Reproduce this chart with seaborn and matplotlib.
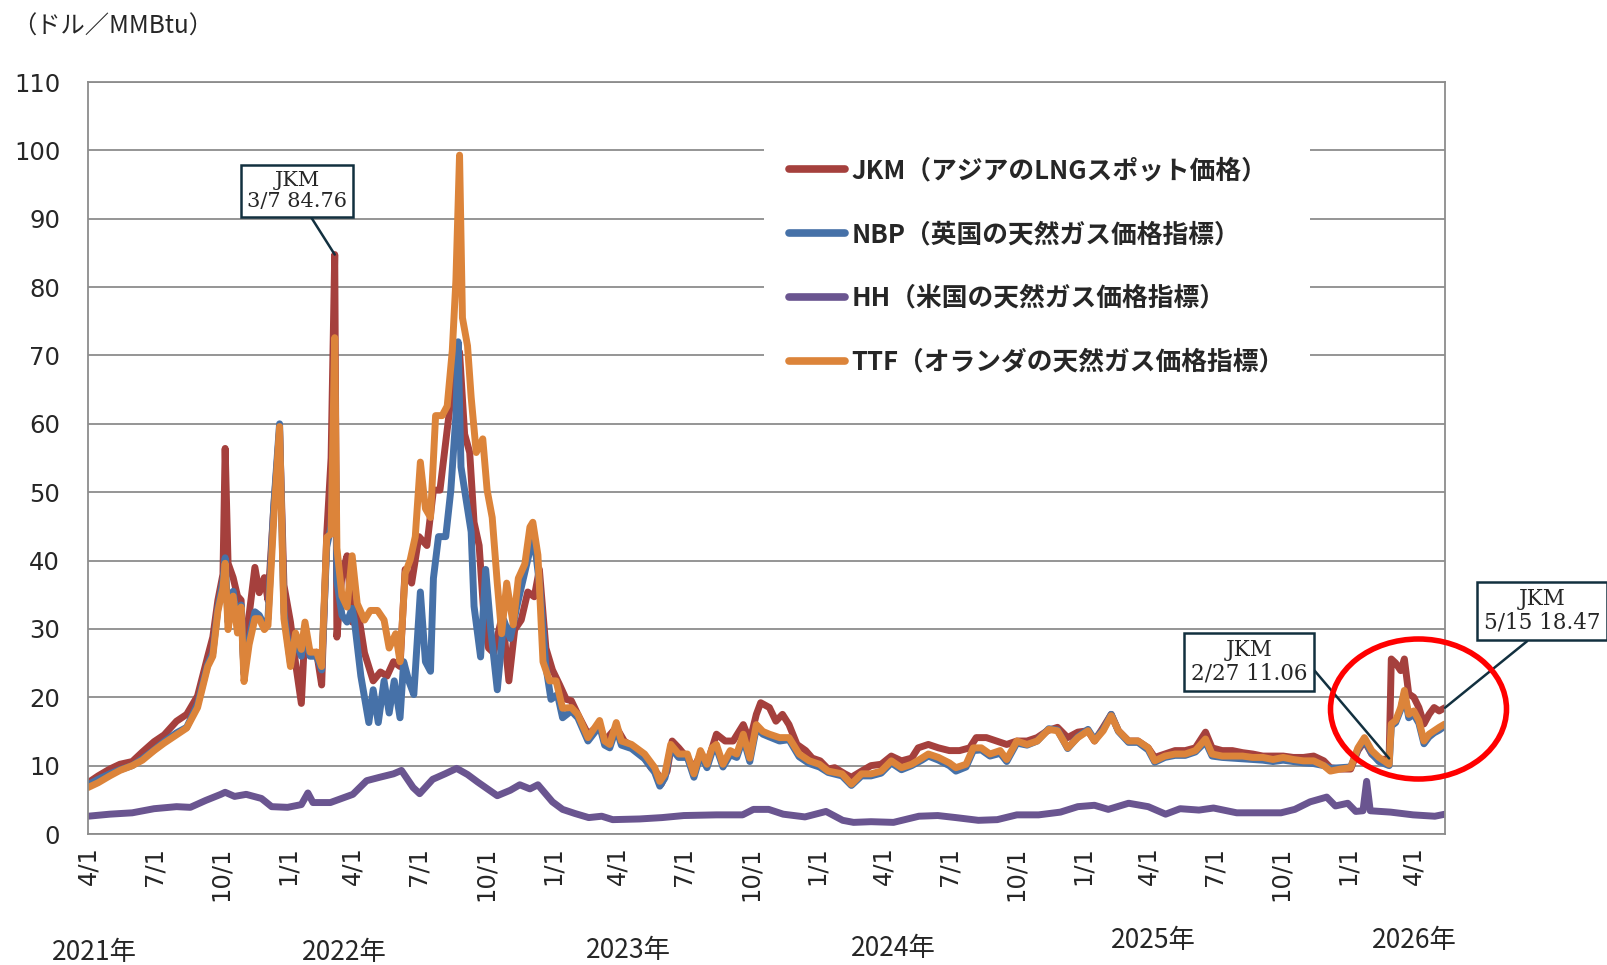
import matplotlib
matplotlib.use("Agg")
import matplotlib.pyplot as plt
import matplotlib.dates as mdates
from matplotlib.lines import Line2D
from matplotlib.patches import Ellipse
import pandas as pd
import seaborn as sns

# 価格データ（ドル／MMBtu）、グラフから読み取った値
jkm = [
    ("2021-04-01", 7.5), ("2021-04-15", 8.5), ("2021-05-01", 9.5), ("2021-05-15", 10.2),
    ("2021-06-01", 10.6), ("2021-06-15", 12.0), ("2021-07-01", 13.5), ("2021-07-15", 14.5),
    ("2021-08-01", 16.5), ("2021-08-15", 17.5), ("2021-08-30", 20.2), ("2021-09-13", 26.0),
    ("2021-09-20", 28.8), ("2021-09-27", 34.2), ("2021-10-04", 38.0), ("2021-10-07", 56.4),
    ("2021-10-11", 39.6), ("2021-10-18", 37.5), ("2021-10-24", 34.8), ("2021-10-29", 34.2),
    ("2021-11-02", 23.4), ("2021-11-09", 32.0), ("2021-11-17", 39.0), ("2021-11-23", 35.3),
    ("2021-11-30", 37.5), ("2021-12-05", 34.2), ("2021-12-13", 47.7), ("2021-12-21", 59.0),
    ("2021-12-27", 36.4), ("2022-01-05", 31.0), ("2022-01-12", 25.0), ("2022-01-20", 19.1),
    ("2022-01-25", 29.9), ("2022-02-01", 26.1), ("2022-02-10", 26.6), ("2022-02-17", 21.8),
    ("2022-02-24", 43.9), ("2022-03-02", 55.0), ("2022-03-07", 84.76), ("2022-03-10", 28.8),
    ("2022-03-17", 38.0), ("2022-03-24", 40.7), ("2022-03-31", 31.0), ("2022-04-07", 33.3),
    ("2022-04-17", 26.5), ("2022-04-29", 22.4), ("2022-05-09", 23.7), ("2022-05-18", 23.1),
    ("2022-05-27", 25.2), ("2022-06-05", 24.5), ("2022-06-12", 38.7), ("2022-06-21", 36.7),
    ("2022-07-01", 43.5), ("2022-07-12", 42.2), ("2022-07-21", 50.3), ("2022-07-30", 50.3),
    ("2022-08-09", 59.2), ("2022-08-19", 68.0), ("2022-08-26", 70.5), ("2022-09-02", 58.5),
    ("2022-09-09", 55.8), ("2022-09-15", 45.6), ("2022-09-22", 42.2), ("2022-09-29", 31.3),
    ("2022-10-05", 27.2), ("2022-10-12", 26.5), ("2022-10-24", 32.0), ("2022-11-02", 22.4),
    ("2022-11-10", 29.9), ("2022-11-19", 31.3), ("2022-11-28", 35.4), ("2022-12-07", 34.7),
    ("2022-12-14", 38.7), ("2022-12-23", 27.2), ("2023-01-01", 24.0), ("2023-01-11", 21.8),
    ("2023-01-20", 19.7), ("2023-01-27", 19.5), ("2023-02-05", 17.5), ("2023-02-19", 14.6),
    ("2023-03-07", 16.0), ("2023-03-14", 13.6), ("2023-03-30", 15.6), ("2023-04-10", 13.6),
    ("2023-04-24", 12.6), ("2023-05-08", 11.1), ("2023-05-17", 9.7), ("2023-05-26", 8.8),
    ("2023-05-31", 7.3), ("2023-06-08", 9.2), ("2023-06-15", 13.6), ("2023-06-24", 12.6),
    ("2023-07-06", 11.1), ("2023-07-15", 9.7), ("2023-07-24", 11.6), ("2023-08-02", 10.2),
    ("2023-08-15", 14.6), ("2023-08-27", 13.6), ("2023-09-07", 13.6), ("2023-09-21", 16.0),
    ("2023-09-30", 13.6), ("2023-10-09", 17.5), ("2023-10-15", 19.2), ("2023-10-27", 18.5),
    ("2023-11-05", 16.5), ("2023-11-14", 17.5), ("2023-11-23", 16.0), ("2023-12-04", 13.1),
    ("2023-12-16", 12.2), ("2023-12-25", 11.1), ("2024-01-05", 10.7), ("2024-01-16", 9.5),
    ("2024-01-25", 9.7), ("2024-02-08", 8.8), ("2024-02-17", 8.3), ("2024-03-02", 9.2),
    ("2024-03-15", 10.0), ("2024-03-29", 10.2), ("2024-04-12", 11.4), ("2024-04-26", 10.7),
    ("2024-05-10", 11.1), ("2024-05-19", 12.6), ("2024-06-02", 13.1), ("2024-06-16", 12.6),
    ("2024-07-01", 12.2), ("2024-07-15", 12.2), ("2024-07-29", 12.6), ("2024-08-07", 14.1),
    ("2024-08-21", 14.1), ("2024-09-04", 13.6), ("2024-09-18", 13.1), ("2024-10-02", 13.6),
    ("2024-10-16", 13.6), ("2024-10-30", 14.1), ("2024-11-13", 15.1), ("2024-11-27", 15.6),
    ("2024-12-11", 14.1), ("2024-12-25", 14.9), ("2025-01-08", 15.1), ("2025-01-17", 13.6),
    ("2025-01-29", 15.6), ("2025-02-09", 17.5), ("2025-02-19", 15.1), ("2025-03-05", 13.6),
    ("2025-03-18", 13.6), ("2025-04-01", 12.6), ("2025-04-10", 11.2), ("2025-04-24", 11.7),
    ("2025-05-08", 12.2), ("2025-05-22", 12.2), ("2025-06-05", 12.6), ("2025-06-19", 14.9),
    ("2025-06-28", 12.6), ("2025-07-12", 12.2), ("2025-07-26", 12.2), ("2025-08-09", 11.9),
    ("2025-08-23", 11.7), ("2025-09-06", 11.4), ("2025-09-20", 11.4), ("2025-10-04", 11.4),
    ("2025-10-18", 11.2), ("2025-11-01", 11.2), ("2025-11-15", 11.4), ("2025-11-29", 10.7),
    ("2025-12-08", 9.7), ("2025-12-22", 9.5), ("2026-01-05", 9.5), ("2026-01-15", 12.2),
    ("2026-01-24", 13.6), ("2026-02-03", 11.7), ("2026-02-13", 10.8), ("2026-02-27", 11.06),
    ("2026-03-02", 25.6), ("2026-03-08", 25.0), ("2026-03-15", 23.9), ("2026-03-20", 25.6),
    ("2026-03-26", 20.5), ("2026-04-02", 20.0), ("2026-04-09", 18.5), ("2026-04-16", 16.1),
    ("2026-04-23", 17.5), ("2026-04-30", 18.5), ("2026-05-07", 18.0), ("2026-05-15", 18.47),
]

nbp = [
    ("2021-04-01", 7.2), ("2021-04-15", 8.0), ("2021-05-01", 8.8), ("2021-05-15", 9.4),
    ("2021-06-01", 10.0), ("2021-06-15", 11.0), ("2021-07-01", 12.3), ("2021-07-15", 13.5),
    ("2021-08-01", 14.8), ("2021-08-15", 15.6), ("2021-08-30", 19.0), ("2021-09-13", 24.8),
    ("2021-09-20", 26.5), ("2021-09-27", 33.0), ("2021-10-04", 37.0), ("2021-10-07", 40.4),
    ("2021-10-11", 31.0), ("2021-10-18", 35.5), ("2021-10-24", 30.5), ("2021-10-29", 33.5),
    ("2021-11-02", 23.5), ("2021-11-09", 28.5), ("2021-11-17", 32.5), ("2021-11-23", 32.0),
    ("2021-11-30", 30.5), ("2021-12-05", 31.5), ("2021-12-13", 48.0), ("2021-12-21", 60.0),
    ("2021-12-27", 32.5), ("2022-01-05", 25.0), ("2022-01-12", 28.5), ("2022-01-20", 26.0),
    ("2022-01-25", 30.0), ("2022-02-01", 26.0), ("2022-02-10", 26.0), ("2022-02-17", 24.0),
    ("2022-02-24", 42.0), ("2022-03-02", 45.0), ("2022-03-07", 65.0), ("2022-03-10", 37.0),
    ("2022-03-17", 32.0), ("2022-03-24", 31.0), ("2022-03-31", 33.0), ("2022-04-03", 31.3),
    ("2022-04-12", 23.1), ("2022-04-23", 16.3), ("2022-04-29", 21.1), ("2022-05-06", 16.3),
    ("2022-05-14", 22.4), ("2022-05-21", 17.7), ("2022-05-28", 22.4), ("2022-06-05", 17.0),
    ("2022-06-10", 25.2), ("2022-06-17", 22.4), ("2022-06-24", 20.4), ("2022-07-03", 35.4),
    ("2022-07-10", 25.2), ("2022-07-17", 23.8), ("2022-07-21", 37.4), ("2022-07-28", 43.5),
    ("2022-08-07", 43.5), ("2022-08-14", 50.3), ("2022-08-21", 61.2), ("2022-08-24", 72.0),
    ("2022-08-28", 53.7), ("2022-09-04", 48.9), ("2022-09-11", 44.2), ("2022-09-15", 33.3),
    ("2022-09-24", 25.9), ("2022-10-01", 38.7), ("2022-10-08", 29.9), ("2022-10-17", 21.1),
    ("2022-10-26", 31.3), ("2022-11-04", 28.6), ("2022-11-13", 33.3), ("2022-11-22", 37.4),
    ("2022-12-01", 41.5), ("2022-12-07", 42.9), ("2022-12-14", 36.7), ("2022-12-23", 24.5),
    ("2022-12-30", 19.7), ("2023-01-08", 20.4), ("2023-01-15", 17.0), ("2023-01-27", 18.0),
    ("2023-02-05", 17.0), ("2023-02-19", 13.6), ("2023-03-07", 15.8), ("2023-03-14", 13.0),
    ("2023-03-21", 12.6), ("2023-03-30", 15.5), ("2023-04-06", 13.0), ("2023-04-20", 12.5),
    ("2023-05-08", 11.0), ("2023-05-22", 9.0), ("2023-05-29", 7.0), ("2023-06-05", 8.2),
    ("2023-06-13", 12.6), ("2023-06-24", 11.2), ("2023-07-06", 11.2), ("2023-07-15", 8.3),
    ("2023-07-24", 11.6), ("2023-08-02", 9.7), ("2023-08-09", 12.0), ("2023-08-15", 12.6),
    ("2023-08-24", 9.8), ("2023-09-03", 11.6), ("2023-09-12", 11.2), ("2023-09-21", 14.0),
    ("2023-09-30", 10.6), ("2023-10-09", 15.5), ("2023-10-18", 14.6), ("2023-10-27", 14.2),
    ("2023-11-10", 13.6), ("2023-11-23", 13.8), ("2023-12-07", 11.3), ("2023-12-21", 10.3),
    ("2024-01-04", 9.8), ("2024-01-16", 9.0), ("2024-02-04", 8.5), ("2024-02-17", 7.1),
    ("2024-03-02", 8.5), ("2024-03-15", 8.5), ("2024-03-29", 8.9), ("2024-04-12", 10.4),
    ("2024-04-26", 9.4), ("2024-05-10", 10.0), ("2024-05-24", 10.8), ("2024-06-02", 11.4),
    ("2024-06-16", 10.8), ("2024-07-01", 10.0), ("2024-07-10", 9.2), ("2024-07-24", 9.8),
    ("2024-08-03", 12.2), ("2024-08-14", 12.3), ("2024-08-26", 11.4), ("2024-09-09", 11.8),
    ("2024-09-18", 10.6), ("2024-10-02", 13.3), ("2024-10-16", 13.0), ("2024-10-30", 13.6),
    ("2024-11-15", 15.4), ("2024-11-27", 15.2), ("2024-12-11", 12.5), ("2024-12-25", 14.2),
    ("2025-01-08", 15.3), ("2025-01-17", 13.8), ("2025-01-29", 15.3), ("2025-02-09", 17.5),
    ("2025-02-19", 15.0), ("2025-03-05", 13.4), ("2025-03-18", 13.4), ("2025-04-01", 12.3),
    ("2025-04-10", 10.5), ("2025-04-24", 11.2), ("2025-05-08", 11.5), ("2025-05-22", 11.5),
    ("2025-06-05", 12.0), ("2025-06-19", 13.5), ("2025-06-28", 11.4), ("2025-07-12", 11.2),
    ("2025-07-26", 11.1), ("2025-08-09", 11.0), ("2025-08-23", 10.9), ("2025-09-06", 10.8),
    ("2025-09-20", 10.6), ("2025-10-04", 10.8), ("2025-10-18", 10.6), ("2025-11-01", 10.4),
    ("2025-11-15", 10.3), ("2025-11-29", 10.0), ("2025-12-08", 9.6), ("2025-12-22", 9.7),
    ("2026-01-05", 9.8), ("2026-01-15", 12.4), ("2026-01-24", 13.8), ("2026-02-03", 11.8),
    ("2026-02-13", 10.6), ("2026-02-27", 10.0), ("2026-03-02", 15.8), ("2026-03-08", 16.3),
    ("2026-03-15", 18.2), ("2026-03-20", 20.6), ("2026-03-26", 17.0), ("2026-04-02", 17.5),
    ("2026-04-09", 16.2), ("2026-04-16", 13.2), ("2026-04-23", 14.2), ("2026-04-30", 14.8),
    ("2026-05-07", 15.2), ("2026-05-15", 15.8),
]

hh = [
    ("2021-04-01", 2.6), ("2021-05-01", 2.9), ("2021-06-01", 3.1), ("2021-07-01", 3.7),
    ("2021-08-01", 4.0), ("2021-08-20", 3.9), ("2021-09-10", 4.9), ("2021-10-01", 5.8),
    ("2021-10-07", 6.1), ("2021-10-20", 5.5), ("2021-11-05", 5.8), ("2021-11-26", 5.2),
    ("2021-12-10", 4.0), ("2022-01-01", 3.9), ("2022-01-20", 4.3), ("2022-01-29", 6.0),
    ("2022-02-05", 4.6), ("2022-03-01", 4.6), ("2022-04-01", 5.8), ("2022-04-20", 7.8),
    ("2022-05-08", 8.3), ("2022-05-27", 8.8), ("2022-06-07", 9.3), ("2022-06-23", 6.8),
    ("2022-07-02", 5.9), ("2022-07-20", 8.0), ("2022-08-06", 8.8), ("2022-08-22", 9.6),
    ("2022-09-06", 8.7), ("2022-09-20", 7.6), ("2022-10-17", 5.6), ("2022-11-04", 6.4),
    ("2022-11-17", 7.2), ("2022-12-01", 6.6), ("2022-12-12", 7.2), ("2023-01-01", 4.7),
    ("2023-01-15", 3.6), ("2023-02-01", 3.0), ("2023-02-20", 2.4), ("2023-03-10", 2.6),
    ("2023-03-25", 2.1), ("2023-05-01", 2.2), ("2023-06-01", 2.4), ("2023-07-01", 2.7),
    ("2023-08-15", 2.8), ("2023-09-20", 2.8), ("2023-10-05", 3.6), ("2023-10-26", 3.6),
    ("2023-11-15", 2.9), ("2023-12-15", 2.5), ("2024-01-13", 3.3), ("2024-02-05", 2.0),
    ("2024-02-20", 1.7), ("2024-03-15", 1.8), ("2024-04-15", 1.7), ("2024-05-20", 2.6),
    ("2024-06-15", 2.7), ("2024-07-10", 2.4), ("2024-08-10", 2.0), ("2024-09-05", 2.1),
    ("2024-10-02", 2.8), ("2024-11-01", 2.8), ("2024-12-01", 3.2), ("2024-12-25", 4.0),
    ("2025-01-17", 4.2), ("2025-02-05", 3.6), ("2025-03-05", 4.5), ("2025-04-01", 4.0),
    ("2025-04-25", 2.9), ("2025-05-15", 3.7), ("2025-06-10", 3.5), ("2025-06-30", 3.8),
    ("2025-08-01", 3.1), ("2025-09-01", 3.1), ("2025-10-01", 3.1), ("2025-10-20", 3.6),
    ("2025-11-10", 4.7), ("2025-12-03", 5.4), ("2025-12-15", 4.1), ("2026-01-01", 4.5),
    ("2026-01-12", 3.3), ("2026-01-22", 3.4), ("2026-01-27", 7.7), ("2026-02-01", 3.4),
    ("2026-03-01", 3.2), ("2026-04-01", 2.8), ("2026-05-01", 2.6), ("2026-05-15", 2.9),
]

ttf = [
    ("2021-04-01", 6.8), ("2021-04-15", 7.5), ("2021-05-01", 8.5), ("2021-05-15", 9.3),
    ("2021-06-01", 10.0), ("2021-06-15", 10.8), ("2021-07-01", 12.2), ("2021-07-15", 13.3),
    ("2021-08-01", 14.5), ("2021-08-15", 15.5), ("2021-08-30", 18.5), ("2021-09-13", 24.5),
    ("2021-09-20", 26.0), ("2021-09-27", 32.6), ("2021-10-04", 36.0), ("2021-10-07", 39.6),
    ("2021-10-11", 29.9), ("2021-10-18", 34.8), ("2021-10-24", 29.4), ("2021-10-29", 33.2),
    ("2021-11-02", 22.3), ("2021-11-09", 27.7), ("2021-11-17", 31.5), ("2021-11-23", 31.5),
    ("2021-11-30", 29.9), ("2021-12-05", 30.5), ("2021-12-13", 46.1), ("2021-12-21", 59.6),
    ("2021-12-27", 31.5), ("2022-01-05", 24.5), ("2022-01-12", 29.4), ("2022-01-20", 27.0),
    ("2022-01-25", 31.0), ("2022-02-01", 26.6), ("2022-02-10", 26.6), ("2022-02-17", 24.5),
    ("2022-02-24", 43.4), ("2022-03-02", 43.9), ("2022-03-07", 72.6), ("2022-03-10", 41.8),
    ("2022-03-17", 34.8), ("2022-03-24", 33.2), ("2022-03-31", 40.7), ("2022-04-07", 33.7),
    ("2022-04-17", 31.3), ("2022-04-25", 32.7), ("2022-05-05", 32.7), ("2022-05-14", 31.3),
    ("2022-05-21", 27.2), ("2022-05-30", 29.3), ("2022-06-05", 25.2), ("2022-06-12", 38.1),
    ("2022-06-19", 40.1), ("2022-06-26", 43.5), ("2022-07-03", 54.4), ("2022-07-10", 47.6),
    ("2022-07-17", 46.3), ("2022-07-24", 61.2), ("2022-08-02", 61.2), ("2022-08-09", 62.6),
    ("2022-08-16", 70.7), ("2022-08-21", 81.0), ("2022-08-26", 99.3), ("2022-08-30", 75.5),
    ("2022-09-06", 71.4), ("2022-09-11", 63.9), ("2022-09-18", 55.8), ("2022-09-27", 57.8),
    ("2022-10-03", 50.3), ("2022-10-10", 46.3), ("2022-10-17", 36.7), ("2022-10-23", 29.3),
    ("2022-10-30", 36.7), ("2022-11-08", 30.6), ("2022-11-15", 37.4), ("2022-11-24", 39.5),
    ("2022-12-01", 44.9), ("2022-12-05", 45.6), ("2022-12-12", 40.8), ("2022-12-19", 25.2),
    ("2022-12-28", 22.4), ("2023-01-06", 22.4), ("2023-01-15", 18.4), ("2023-01-27", 18.5),
    ("2023-02-05", 17.5), ("2023-02-19", 14.1), ("2023-03-07", 16.6), ("2023-03-14", 13.6),
    ("2023-03-21", 13.1), ("2023-03-30", 16.3), ("2023-04-06", 13.6), ("2023-04-20", 13.1),
    ("2023-05-08", 11.7), ("2023-05-22", 9.7), ("2023-05-29", 7.7), ("2023-06-05", 8.8),
    ("2023-06-13", 13.1), ("2023-06-24", 11.7), ("2023-07-06", 11.7), ("2023-07-15", 8.8),
    ("2023-07-24", 12.2), ("2023-08-02", 10.2), ("2023-08-09", 12.6), ("2023-08-15", 13.1),
    ("2023-08-24", 10.2), ("2023-09-03", 12.2), ("2023-09-12", 11.7), ("2023-09-21", 14.6),
    ("2023-09-30", 11.1), ("2023-10-09", 16.0), ("2023-10-18", 15.0), ("2023-10-27", 14.6),
    ("2023-11-10", 14.1), ("2023-11-23", 14.1), ("2023-12-07", 11.7), ("2023-12-21", 10.7),
    ("2024-01-04", 10.2), ("2024-01-16", 9.2), ("2024-02-04", 8.8), ("2024-02-17", 7.3),
    ("2024-03-02", 8.8), ("2024-03-15", 8.8), ("2024-03-29", 9.2), ("2024-04-12", 10.7),
    ("2024-04-26", 9.7), ("2024-05-10", 10.2), ("2024-05-24", 11.1), ("2024-06-02", 11.7),
    ("2024-06-16", 11.2), ("2024-07-01", 10.4), ("2024-07-10", 9.7), ("2024-07-24", 10.2),
    ("2024-08-03", 12.6), ("2024-08-14", 12.6), ("2024-08-26", 11.7), ("2024-09-09", 12.2),
    ("2024-09-18", 10.9), ("2024-10-02", 13.6), ("2024-10-16", 13.1), ("2024-10-30", 13.6),
    ("2024-11-15", 15.3), ("2024-11-27", 15.1), ("2024-12-11", 12.6), ("2024-12-25", 14.1),
    ("2025-01-08", 15.1), ("2025-01-17", 13.6), ("2025-01-29", 15.1), ("2025-02-09", 17.3),
    ("2025-02-19", 15.1), ("2025-03-05", 13.6), ("2025-03-18", 13.6), ("2025-04-01", 12.6),
    ("2025-04-10", 10.7), ("2025-04-24", 11.4), ("2025-05-08", 11.7), ("2025-05-22", 11.7),
    ("2025-06-05", 12.2), ("2025-06-19", 13.9), ("2025-06-28", 11.7), ("2025-07-12", 11.4),
    ("2025-07-26", 11.4), ("2025-08-09", 11.4), ("2025-08-23", 11.2), ("2025-09-06", 11.2),
    ("2025-09-20", 10.9), ("2025-10-04", 11.2), ("2025-10-18", 10.9), ("2025-11-01", 10.7),
    ("2025-11-15", 10.7), ("2025-11-29", 10.0), ("2025-12-08", 9.2), ("2025-12-22", 9.5),
    ("2026-01-05", 9.7), ("2026-01-15", 12.6), ("2026-01-24", 14.1), ("2026-02-03", 12.2),
    ("2026-02-13", 11.2), ("2026-02-27", 10.2), ("2026-03-02", 16.1), ("2026-03-08", 16.6),
    ("2026-03-15", 18.5), ("2026-03-20", 21.0), ("2026-03-26", 17.5), ("2026-04-02", 18.0),
    ("2026-04-09", 16.6), ("2026-04-16", 13.6), ("2026-04-23", 14.6), ("2026-04-30", 15.1),
    ("2026-05-07", 15.6), ("2026-05-15", 16.1),
]

labels = [
    "JKM（アジアのLNGスポット価格）",
    "NBP（英国の天然ガス価格指標）",
    "HH（米国の天然ガス価格指標）",
    "TTF（オランダの天然ガス価格指標）",
]
colors = ["#A5403D", "#4671A8", "#6A5590", "#DC843A"]
year_labels = ["2021年", "2022年", "2023年", "2024年", "2025年", "2026年"]
year_pos = [(94, 953), (344, 953), (628, 951), (893, 948), (1153, 940), (1414, 940)]

sns.set_style("white")
plt.rcParams["font.family"] = ["Noto Sans CJK JP", "DejaVu Sans"]

rows = []
for name, pts in zip(labels, [jkm, nbp, hh, ttf]):
    for d, v in pts:
        rows.append((pd.Timestamp(d), v, name))
df = pd.DataFrame(rows, columns=["date", "price", "series"])

W, H = 1607, 965
fig = plt.figure(figsize=(W / 100, H / 100), dpi=100)
ax = fig.add_axes([88 / W, 1 - 834 / H, (1445 - 88) / W, (834 - 82) / H])

sns.lineplot(data=df, x="date", y="price", hue="series", hue_order=labels,
             palette=dict(zip(labels, colors)), linewidth=5.0, legend=False,
             estimator=None, ax=ax, solid_joinstyle="round", solid_capstyle="round")

grid_c = "#8c8c8c"
ax.set_xlim(pd.Timestamp("2021-04-01"), pd.Timestamp("2026-05-15"))
ax.set_ylim(0, 110)
ax.set_yticks(range(0, 111, 10))
ax.yaxis.grid(True, color=grid_c, linewidth=1.3)
ax.xaxis.grid(False)
for s in ax.spines.values():
    s.set_color(grid_c)
    s.set_linewidth(1.3)
ax.set_xlabel("")
ax.set_ylabel("")

ax.xaxis.set_major_locator(mdates.MonthLocator(bymonth=[1, 4, 7, 10], bymonthday=1))
ax.xaxis.set_major_formatter(plt.FuncFormatter(lambda x, pos: f"{mdates.num2date(x).month}/1"))
ax.tick_params(axis="x", direction="out", length=6, width=1.3, color=grid_c,
               labelsize=17.5, labelrotation=90, pad=3, labelfontfamily="DejaVu Sans")
ax.tick_params(axis="y", length=0, labelsize=17.5, pad=20, labelfontfamily="DejaVu Sans")
for t in ax.get_xticklabels():
    t.set_va("top")

# 凡例（白背景でグリッド線を隠す）
handles = [Line2D([], [], color=c, lw=5.5, solid_capstyle="round") for c in colors]
leg = ax.legend(handles, labels, loc="upper left", bbox_to_anchor=(0.498, 0.934),
                frameon=True, facecolor="white", edgecolor="none", framealpha=1,
                fancybox=False, borderpad=1.0, borderaxespad=0, handlelength=2.15,
                handletextpad=0.25, labelspacing=1.43,
                prop={"family": ["Noto Sans CJK JP", "DejaVu Sans"], "weight": "bold", "size": 18.5})

# 単位と年ラベル
fig.text(12 / W, 1 - 27 / H, "（ドル／MMBtu）", fontsize=17.5, va="center", ha="left")
for lab, (px, py) in zip(year_labels, year_pos):
    fig.text(px / W, 1 - py / H, lab, fontsize=19, ha="center", va="center")

# 吹き出し
box = dict(boxstyle="square,pad=0.3", fc="white", ec="#12303F", lw=1.8)
arrow = dict(arrowstyle="-", color="#12303F", lw=1.8, shrinkA=0, shrinkB=0)
notes = [
    ("2022-03-07", 84.76, "JKM\n3/7 84.76", (297, H - 191), 15, (0.6, 0)),
    ("2026-02-27", 11.06, "JKM\n2/27 11.06", (1249, H - 662), 15.5, (1, 0.5)),
    ("2026-05-15", 18.47, "JKM\n5/15 18.47", (1542, H - 611), 15.5, (0.45, 0)),
]
for d, v, txt, xyt, fs, rp in notes:
    a = dict(arrow)
    a["relpos"] = rp
    ax.annotate(txt, xy=(mdates.date2num(pd.Timestamp(d)), v), xytext=xyt,
                textcoords="figure pixels", ha="center", va="center", fontsize=fs,
                family="DejaVu Serif", linespacing=1.1, bbox=box, arrowprops=a,
                annotation_clip=False, zorder=5)

# 赤い楕円
ell = Ellipse((1418.5 / W, 1 - 709 / H), 176 / W, 140 / H, transform=fig.transFigure,
              fill=False, edgecolor="#FF0000", lw=4, zorder=10)
fig.add_artist(ell)

fig.savefig("out.png", dpi=100)
